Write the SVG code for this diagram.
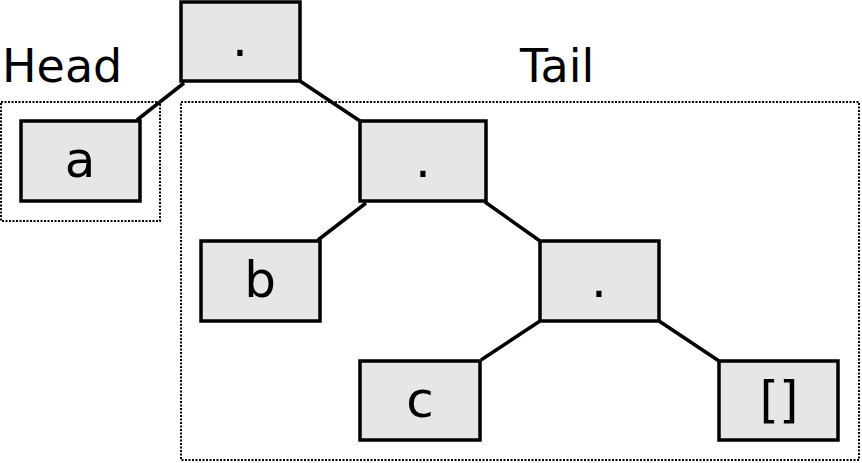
<svg xmlns="http://www.w3.org/2000/svg" width="862" height="463" viewBox="0 0 862 463">
<style>
.node rect{fill:#e6e6e6;stroke:#000;stroke-width:3.5}
.node text,.lbl{font-family:"DejaVu Sans",sans-serif;fill:#000}
.node text{font-size:50px;text-anchor:middle}
.lbl{font-size:46px}
.grp{fill:none;stroke:#000;stroke-width:2;stroke-dasharray:2 1.5}
#edges line{stroke:#000;stroke-width:3.5}
</style>
<rect class="grp" x="1" y="102" width="159" height="119"/>
<rect class="grp" x="181" y="102" width="678" height="358"/>
<text class="lbl" x="2" y="82">Head</text>
<text class="lbl" x="520" y="82">Tail</text>
<g id="edges">
<line x1="184" y1="83" x2="137" y2="120"/>
<line x1="300" y1="81" x2="360" y2="121"/>
<line x1="366" y1="203" x2="318" y2="240"/>
<line x1="485" y1="202" x2="540" y2="241"/>
<line x1="540" y1="321" x2="481" y2="360"/>
<line x1="659" y1="321" x2="719" y2="361"/>
</g>
<g id="n1" class="node"><rect x="181" y="2" width="119" height="79"/><text x="240" y="56">.</text></g>
<g id="na" class="node"><rect x="21" y="121" width="119" height="80"/><text x="80" y="177">a</text></g>
<g id="n2" class="node"><rect x="360" y="121" width="126" height="80"/><text x="423" y="177">.</text></g>
<g id="nb" class="node"><rect x="201" y="241" width="119" height="80"/><text x="260" y="297">b</text></g>
<g id="n3" class="node"><rect x="540" y="241" width="119" height="80"/><text x="599" y="297">.</text></g>
<g id="nc" class="node"><rect x="360" y="361" width="120" height="79"/><text x="420" y="417">c</text></g>
<g id="nnil" class="node"><rect x="719" y="361" width="119" height="79"/><text x="779" y="417">[]</text></g>
</svg>
